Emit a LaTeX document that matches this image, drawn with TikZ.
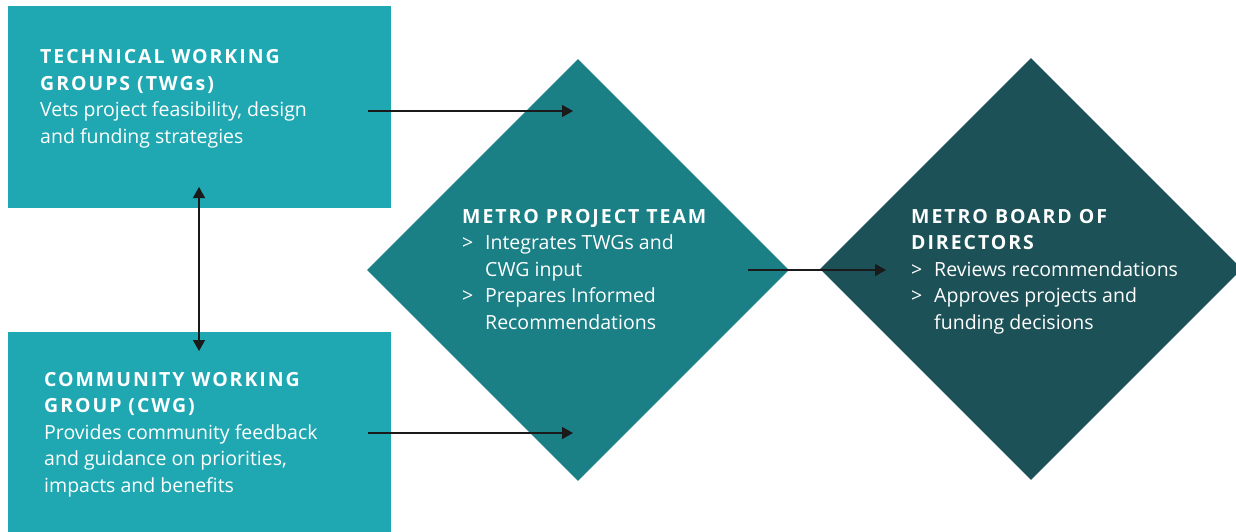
\documentclass[tikz,border=0pt]{standalone}
\usepackage{fontspec}
\setmainfont{Open Sans}
\newfontfamily\headfont{Open Sans}[LetterSpace=10]
\usetikzlibrary{arrows.meta,shapes.geometric}
\definecolor{lightteal}{HTML}{20A8B2}
\definecolor{midteal}{HTML}{1A8086}
\definecolor{darkteal}{HTML}{1C5257}
\definecolor{arrowgray}{HTML}{1A1A1A}
\newcommand{\hd}[1]{{\headfont\bfseries #1}}
\tikzset{
  boxshape/.style={fill=lightteal, draw=none},
  diashape/.style={diamond, aspect=1, inner sep=0pt, draw=none, minimum width=422pt, minimum height=422pt},
  txt/.style={anchor=base west, inner sep=0pt, text=white, font=\fontsize{19.5}{26.5}\selectfont},
  conn/.style={draw=arrowgray, line width=1.5pt, -{Triangle[length=11pt,width=12pt]}},
  conn2/.style={draw=arrowgray, line width=1.5pt, {Triangle[length=11pt,width=12pt]}-{Triangle[length=11pt,width=12pt]}}
}
\begin{document}
\begin{tikzpicture}[x=1pt,y=-1pt]
\useasboundingbox (0,0) rectangle (1236,532);
\clip (0,0) rectangle (1236,532);
% boxes
\node[boxshape, minimum width=383pt, minimum height=202pt, inner sep=0pt, anchor=north west] (twg) at (8,6) {};
\node[boxshape, minimum width=383pt, minimum height=200pt, inner sep=0pt, anchor=north west] (cwg) at (8,332) {};
% diamonds
\node[diashape, fill=midteal] (team) at (578,270) {};
\node[diashape, fill=darkteal] (board) at (1031,269) {};
% texts
\node[txt] (twgtext) at (40,64) {\begin{tabular}[t]{@{}l@{}}
\hd{TECHNICAL WORKING}\\
\hd{GROUPS (TWGs)}\\
Vets project feasibility, design\\
and funding strategies
\end{tabular}};
\node[txt] (cwgtext) at (44,386) {\begin{tabular}[t]{@{}l@{}}
\hd{COMMUNITY WORKING}\\
\hd{GROUP (CWG)}\\
Provides community feedback\\
and guidance on priorities,\\
impacts and benefits
\end{tabular}};
\node[txt] (teamtext) at (462,223) {\begin{tabular}[t]{@{}p{23pt}@{}l@{}}
\multicolumn{2}{@{}l@{}}{\hd{METRO PROJECT TEAM}}\\
>& Integrates TWGs and\\
 & CWG input\\
>& Prepares Informed\\
 & Recommendations
\end{tabular}};
\node[txt] (boardtext) at (911,223) {\begin{tabular}[t]{@{}p{23pt}@{}l@{}}
\multicolumn{2}{@{}l@{}}{\hd{METRO BOARD OF}}\\
\multicolumn{2}{@{}l@{}}{\hd{DIRECTORS}}\\
>& Reviews recommendations\\
>& Approves projects and\\
 & funding decisions
\end{tabular}};
% connector ends
\coordinate (twgout) at (368,111);
\coordinate (teamin1) at (573,111);
\coordinate (cwgout) at (368,433);
\coordinate (teamin2) at (573,433);
\coordinate (teamout) at (748,270);
\coordinate (boardin) at (886,270);
\coordinate (twgdown) at (199,187);
\coordinate (cwgup) at (199,351);
\draw[conn] (twgout) -- (teamin1);
\draw[conn] (cwgout) -- (teamin2);
\draw[conn] (teamout) -- (boardin);
\draw[conn2] (twgdown) -- (cwgup);
\end{tikzpicture}
\end{document}
